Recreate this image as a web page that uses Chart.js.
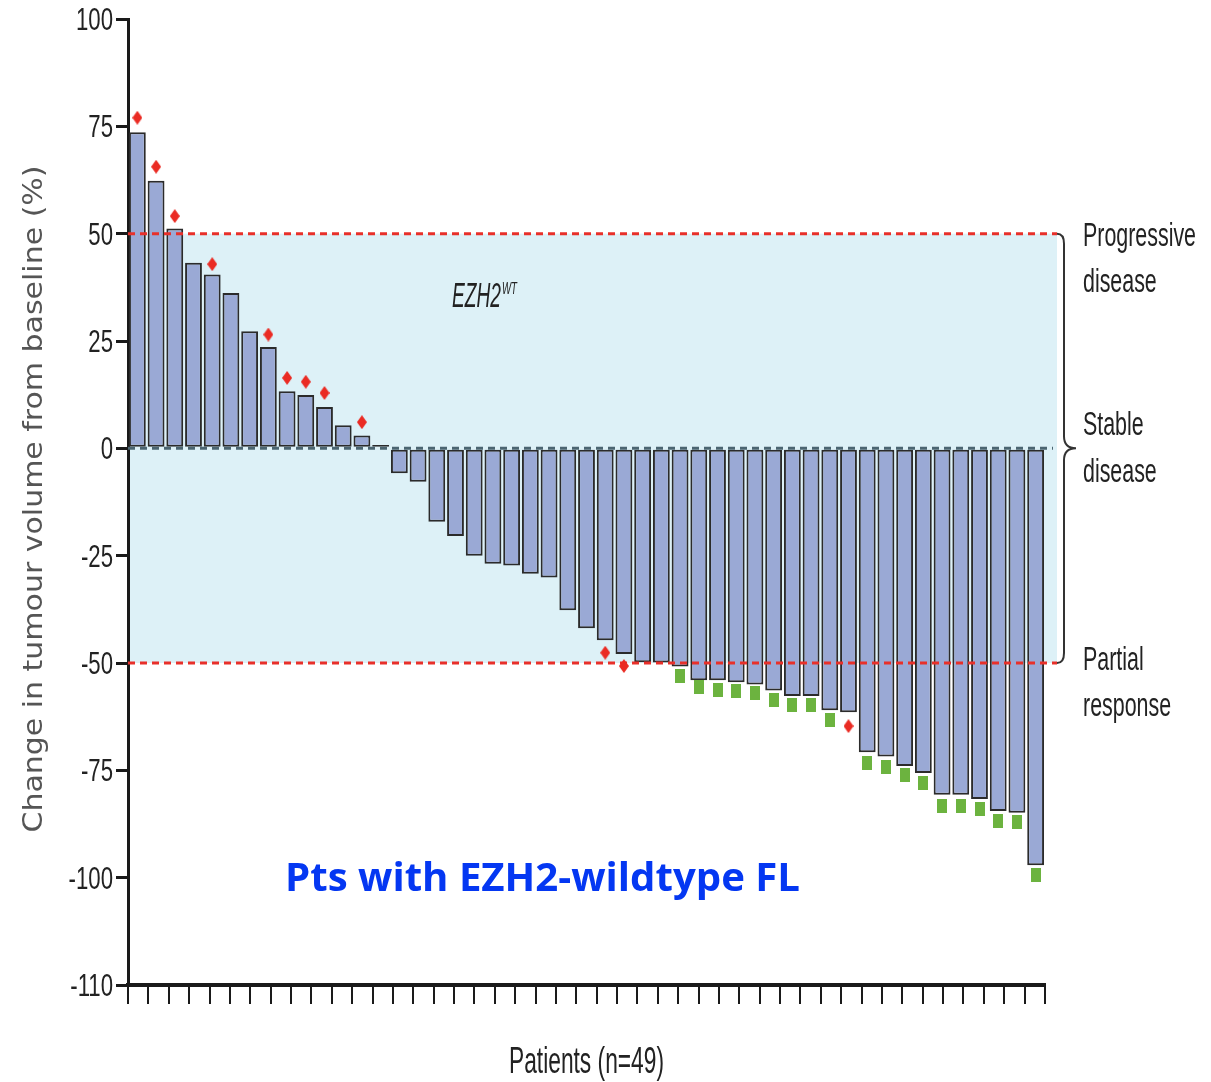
<!DOCTYPE html>
<html lang="en">
<head>
<meta charset="UTF-8">
<title>EZH2 wildtype FL - waterfall</title>
<script src="https://cdn.jsdelivr.net/npm/chart.js"></script>
<style>
  html, body { margin: 0; padding: 0; background: #fff; }
  #waterfall { display: block; }
</style>
</head>
<body>
<canvas id="waterfall" width="1211" height="1082"></canvas>

<script>
    // one bar per patient, sorted from worst to best response
    const patients = Array.from({ length: 49 }, (_, i) => String(i + 1));

    const change = [
        73.6, 62.3, 51.2, 43.2, 40.5, 36.2, 27.3, 23.6, 13.3, 12.4,
        9.6, 5.4, 3.0, 0.8, -5.8, -7.8, -17.1, -20.4, -25.0, -26.9,
        -27.3, -29.2, -30.1, -37.7, -41.9, -44.7, -47.9, -49.8, -49.9, -50.8,
        -54.0, -54.0, -54.5, -55.0, -56.4, -57.7, -57.7, -61.0, -61.5, -70.8,
        -71.8, -74.0, -75.6, -80.7, -80.7, -81.7, -84.5, -84.9, -97.1
    ];

    // red diamonds
    const diamonds = [
        77.0, 65.6, 54.1, null, 42.9, null, null, 26.5, 16.4, 15.5,
        12.9, null, 6.1, null, null, null, null, null, null, null,
        null, null, null, null, null, -47.6, -50.7, null, null, null,
        null, null, null, null, null, null, null, null, -64.7, null,
        null, null, null, null, null, null, null, null, null
    ];

    // green squares
    const squares = [
        null, null, null, null, null, null, null, null, null, null,
        null, null, null, null, null, null, null, null, null, null,
        null, null, null, null, null, null, null, null, null, -53.1,
        -55.7, -56.3, -56.6, -57.1, -58.7, -59.7, -59.7, -63.2, null, -73.2,
        -74.2, -76.2, -77.9, -83.2, -83.2, -83.9, -86.7, -87.0, -99.4
    ];

    // the bottom segment of the axis is drawn as a break: -125 is shown as -110
    const yTicks = [100, 75, 50, 25, 0, -25, -50, -75, -100, -125];
    const yTickLabels = ['100', '75', '50', '25', '0', '-25', '-50', '-75', '-100', '-110'];

    const sans = '"Liberation Sans", Arial, sans-serif';

    function marker(w, h, color, diamond) {
        const c = document.createElement('canvas');
        c.width = w;
        c.height = h;
        const g = c.getContext('2d');
        g.fillStyle = color;
        if (diamond) {
            g.beginPath();
            g.moveTo(w / 2, 0);
            g.lineTo(w, h / 2);
            g.lineTo(w / 2, h);
            g.lineTo(0, h / 2);
            g.closePath();
            g.fill();
        } else {
            g.fillRect(0, 0, w, h);
        }
        return c;
    }

    // text drawn narrower (or wider) than the font, like the condensed face of the original
    function squeezed(ctx, text, x, y, font, sx, color, align) {
        ctx.save();
        ctx.font = font;
        ctx.fillStyle = color;
        ctx.textBaseline = 'alphabetic';
        ctx.textAlign = align || 'left';
        ctx.translate(x, y);
        ctx.scale(sx, 1);
        ctx.fillText(text, 0, 0);
        ctx.restore();
    }

    function fitScale(ctx, text, font, width) {
        ctx.save();
        ctx.font = font;
        const w = ctx.measureText(text).width;
        ctx.restore();
        return width / w;
    }

    function dashed(ctx, x1, x2, y, color) {
        ctx.save();
        ctx.strokeStyle = color;
        ctx.lineWidth = 3;
        ctx.setLineDash([7, 5]);
        ctx.beginPath();
        ctx.moveTo(x1, y);
        ctx.lineTo(x2, y);
        ctx.stroke();
        ctx.restore();
    }

    const decor = {
        id: 'decor',
        beforeDraw(chart) {
            const { ctx, chartArea: a, scales: { y } } = chart;
            const top = y.getPixelForValue(50);
            const bottom = y.getPixelForValue(-50);
            ctx.save();
            ctx.fillStyle = '#ddf1f7';
            ctx.fillRect(a.left, top, a.right + 12 - a.left, bottom - top);
            ctx.restore();
        },
        afterDatasetDraw(chart, args) {
            if (args.index !== 0) return;
            const { ctx, chartArea: a, scales: { y } } = chart;
            dashed(ctx, a.left, a.right + 12, y.getPixelForValue(50), '#e8302a');
            dashed(ctx, a.left, a.right + 12, y.getPixelForValue(-50), '#e8302a');
            dashed(ctx, a.left, a.right + 8, y.getPixelForValue(0), '#4b6571');
        },
        afterDraw(chart) {
            const { ctx, chartArea: a, scales: { y } } = chart;
            const yTop = y.getPixelForValue(50);
            const yMid = y.getPixelForValue(0);
            const yBot = y.getPixelForValue(-50);

            // y tick labels, condensed
            const tf = '31px ' + sans;
            const tsx = fitScale(ctx, '100', tf, 37);
            yTicks.forEach((v, i) => {
                squeezed(ctx, yTickLabels[i], a.left - 15, y.getPixelForValue(v) + 11, tf, tsx, '#222', 'right');
            });

            // y title
            const yf = '27px "DejaVu Sans", sans-serif';
            const ysx = fitScale(ctx, 'Change in tumour volume from baseline (%)', yf, 667);
            ctx.save();
            ctx.translate(35, (a.top + a.bottom) / 2 - 3);
            ctx.rotate(-Math.PI / 2);
            ctx.scale(ysx, 1);
            ctx.font = yf;
            ctx.fillStyle = '#555';
            ctx.textAlign = 'center';
            ctx.textBaseline = 'middle';
            ctx.fillText('Change in tumour volume from baseline (%)', 0, 0);
            ctx.restore();

            // x title
            const xf = '36px ' + sans;
            const xsx = fitScale(ctx, 'Patients (n=49)', xf, 155);
            squeezed(ctx, 'Patients (n=49)', (a.left + a.right) / 2, 1073, xf, xsx, '#222', 'center');

            // brace
            const x0 = a.right + 12, xv = a.right + 19, xt = a.right + 31;
            ctx.save();
            ctx.strokeStyle = '#333';
            ctx.lineWidth = 2;
            ctx.beginPath();
            ctx.moveTo(x0, yTop);
            ctx.quadraticCurveTo(xv, yTop, xv, yTop + 10);
            ctx.lineTo(xv, yMid - 12);
            ctx.quadraticCurveTo(xv, yMid, xt, yMid);
            ctx.quadraticCurveTo(xv, yMid, xv, yMid + 12);
            ctx.lineTo(xv, yBot - 10);
            ctx.quadraticCurveTo(xv, yBot, x0, yBot);
            ctx.stroke();
            ctx.restore();

            // response categories
            const lf = '34px ' + sans;
            const sx = fitScale(ctx, 'Progressive', lf, 113);
            const lx = a.right + 38;
            squeezed(ctx, 'Progressive', lx, yTop + 12, lf, sx, '#222');
            squeezed(ctx, 'disease', lx, yTop + 58, lf, sx, '#222');
            squeezed(ctx, 'Stable', lx, yMid - 13, lf, sx, '#222');
            squeezed(ctx, 'disease', lx, yMid + 34, lf, sx, '#222');
            squeezed(ctx, 'Partial', lx, yBot + 7, lf, sx, '#222');
            squeezed(ctx, 'response', lx, yBot + 53, lf, sx, '#222');

            // EZH2 wild type label
            const ef = 'italic 35px ' + sans;
            const esx = fitScale(ctx, 'EZH2', ef, 49);
            squeezed(ctx, 'EZH2', 452, 307, ef, esx, '#222');
            squeezed(ctx, 'WT', 502, 294, 'italic 16px ' + sans, esx * 1.1, '#222');

            // blue caption
            const bf = 'bold 40px "Open Sans", sans-serif';
            const bsx = fitScale(ctx, 'Pts with EZH2-wildtype FL', bf, 515);
            squeezed(ctx, 'Pts with EZH2-wildtype FL', 285, 891, bf, bsx, '#0437f2');
        }
    };

    const ctx = document.getElementById('waterfall');

    new Chart(ctx, {
        data: {
            labels: patients,
            datasets: [
                {
                    type: 'bar',
                    data: change,
                    backgroundColor: '#9aa9d5',
                    borderColor: '#2b2b2b',
                    borderWidth: 2,
                    borderSkipped: false,
                    barPercentage: 0.9,
                    categoryPercentage: 1,
                    xAxisID: 'x',
                    order: 2
                },
                {
                    type: 'line',
                    data: diamonds,
                    showLine: false,
                    pointStyle: marker(10, 14, '#ea2b23', true),
                    pointRadius: 7,
                    xAxisID: 'x',
                    order: 0
                },
                {
                    type: 'line',
                    data: squares,
                    showLine: false,
                    pointStyle: marker(10, 14, '#6cb33f', false),
                    pointRadius: 7,
                    xAxisID: 'x',
                    order: 0
                }
            ]
        },
        options: {
            responsive: false,
            animation: false,
            events: [],
            layout: { padding: { left: 0, right: 166, top: 19, bottom: 0 } },
            plugins: {
                legend: { display: false },
                tooltip: { enabled: false }
            },
            scales: {
                x: {
                    type: 'category',
                    display: false,
                    offset: true
                },
                xt: {
                    type: 'linear',
                    position: 'bottom',
                    min: 0,
                    max: 45,
                    ticks: { stepSize: 1, autoSkip: false, callback: () => '' },
                    grid: { drawOnChartArea: false, tickLength: 19, color: '#1a1a1a', lineWidth: 2 },
                    border: { color: '#1a1a1a', width: 4 },
                    afterFit: (s) => { s.height = 97; }
                },
                y: {
                    min: -125,
                    max: 100,
                    ticks: { stepSize: 25, callback: () => '' },
                    grid: { drawOnChartArea: false, tickLength: 12, color: '#1a1a1a', lineWidth: 3 },
                    border: { color: '#1a1a1a', width: 3 },
                    afterFit: (s) => { s.width = 128; }
                }
            }
        },
        plugins: [decor]
    });
</script>
</body>
</html>
